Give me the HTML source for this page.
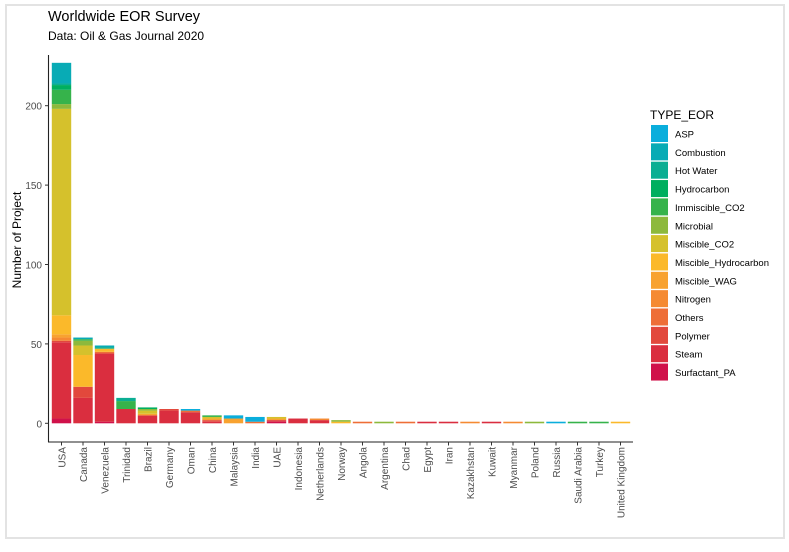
<!DOCTYPE html>
<html><head><meta charset="utf-8"><style>
body{margin:0;background:#fff;font-family:"Liberation Sans",sans-serif}
svg text{font-family:"Liberation Sans",sans-serif}
</style></head><body>
<svg id="c" width="789" height="547" xmlns="http://www.w3.org/2000/svg">
<rect x="6" y="5" width="778" height="533" fill="#fff" stroke="#e3e3e3" stroke-width="2"/>
<text x="48" y="21" font-size="14.5" fill="#000">Worldwide EOR Survey</text>
<text x="48" y="40" font-size="12" fill="#000">Data: Oil &amp; Gas Journal 2020</text>
<text transform="translate(21,240) rotate(-90)" text-anchor="middle" font-size="12" fill="#000">Number of Project</text>
<g id="bars"></g>
<g id="axes"></g>
<g id="legend"></g>
</svg>
<script>
const countries=["USA","Canada","Venezuela","Trinidad","Brazil","Germany","Oman","China","Malaysia","India","UAE","Indonesia","Netherlands","Norway","Angola","Argentina","Chad","Egypt","Iran","Kazakhstan","Kuwait","Myanmar","Poland","Russia","Saudi Arabia","Turkey","United Kingdom"];
const types=["ASP","Combustion","Hot Water","Hydrocarbon","Immiscible_CO2","Microbial","Miscible_CO2","Miscible_Hydrocarbon","Miscible_WAG","Nitrogen","Others","Polymer","Steam","Surfactant_PA"];
const colors=["#0AAEDC","#08ABB5","#0BAE93","#00AF5F","#36B34B","#8DB93C","#D5C12C","#FBB92A","#F8A230","#F58A32","#EE6E37","#E2483C","#DA2E3F","#D0114A"];
// values per country, in type order (ASP ... Surfactant_PA)
const USA=[0,13,1,3,9,3,130,12,2,2,0,1,48,3];
const Canada=[0,1,0,0,1,3,6,20,0,0,0,7,16,0];
const Venezuela=[0,1,1,0,0,0,0,2,0,0,1,0,43,1];
const Trinidad=[0,0,2,0,5,0,0,0,0,0,0,0,9,0];
const Brazil=[0,0,0,1,0,1,2,0,1,0,0,0,5,0];
const Germany=[0,0,0,0,0,0,0,0,0,0,0,1,8,0];
const Oman=[1,0,0,0,0,0,0,0,0,0,1,0,7,0];
const China=[0,0,0,0,1,0,1,0,1,0,0,1,1,0];
const Malaysia=[2,0,0,0,0,0,0,0,3,0,0,0,0,0];
const India=[3,0,0,0,0,0,0,0,0,0,1,0,0,0];
const UAE=[0,0,0,0,0,0,1,0,1,0,0,0,1,1];
const Indonesia=[0,0,0,0,0,0,0,0,0,0,0,0,3,0];
const Netherlands=[0,0,0,0,0,0,0,0,0,1,0,0,2,0];
const Norway=[0,0,0,0,0,1,0,1,0,0,0,0,0,0];
const singles=["Others","Microbial","Others","Steam","Steam","Nitrogen","Steam","Nitrogen","Microbial","ASP","Immiscible_CO2","Immiscible_CO2","Miscible_Hydrocarbon"];
const yTicks=[0,50,100,150,200];
const data=[USA,Canada,Venezuela,Trinidad,Brazil,Germany,Oman,China,Malaysia,India,UAE,Indonesia,Netherlands,Norway];
singles.forEach(t=>{const a=types.map(()=>0);a[types.indexOf(t)]=1;data.push(a);});
const cats=countries.slice(0,data.length);
const NS="http://www.w3.org/2000/svg";
const y0=423.3,ppu=1.588,x0=61.5,band=21.5,bw=19.4;
const ys=v=>y0-v*ppu, xs=i=>x0+i*band;
function el(t,a,p){const e=document.createElementNS(NS,t);for(const k in a)e.setAttribute(k,a[k]);p.appendChild(e);return e;}
const bars=document.getElementById('bars');
data.forEach((vals,i)=>{
  let acc=0;
  for(let k=types.length-1;k>=0;k--){
    const v=vals[k]; if(!v) continue;
    const r=el('rect',{x:xs(i)-bw/2,y:ys(acc+v),width:bw,height:v*ppu,fill:colors[k]},bars);
    
    
    acc+=v;
  }
});
const ax=document.getElementById('axes');
const yl=el('line',{x1:48.5,y1:55,x2:48.5,y2:442,stroke:'#222','stroke-width':1.1},ax);


const xl=el('line',{x1:48,y1:442,x2:633,y2:442,stroke:'#222','stroke-width':1.1},ax);


yTicks.forEach(t=>{
  el('line',{x1:45,x2:48.5,y1:ys(t),y2:ys(t),stroke:'#333'},ax);
  const tx=el('text',{x:42,y:ys(t)+4,'text-anchor':'end','font-size':10,fill:'#4d4d4d'},ax);
  tx.textContent=t;
  
  
});
cats.forEach((c,i)=>{
  el('line',{x1:xs(i),x2:xs(i),y1:442,y2:445.5,stroke:'#333'},ax);
  const tx=el('text',{transform:`translate(${xs(i)+4},447) rotate(-90)`,'text-anchor':'end','font-size':10,fill:'#4d4d4d'},ax);
  tx.textContent=c;
  
  
});
const lg=document.getElementById('legend');
const lt=el('text',{x:650,y:119,'font-size':12,fill:'#000'},lg);
lt.textContent='TYPE_EOR';


types.forEach((t,k)=>{
  const y=125+k*18.35;
  const g=el('g',{},lg);
  
  
  el('rect',{x:651,y:y,width:17,height:17,fill:colors[k]},g);
  const tx=el('text',{x:675,y:y+12.5,'font-size':9.5,fill:'#000'},g);
  tx.textContent=t;
});
</script>
</body></html>
